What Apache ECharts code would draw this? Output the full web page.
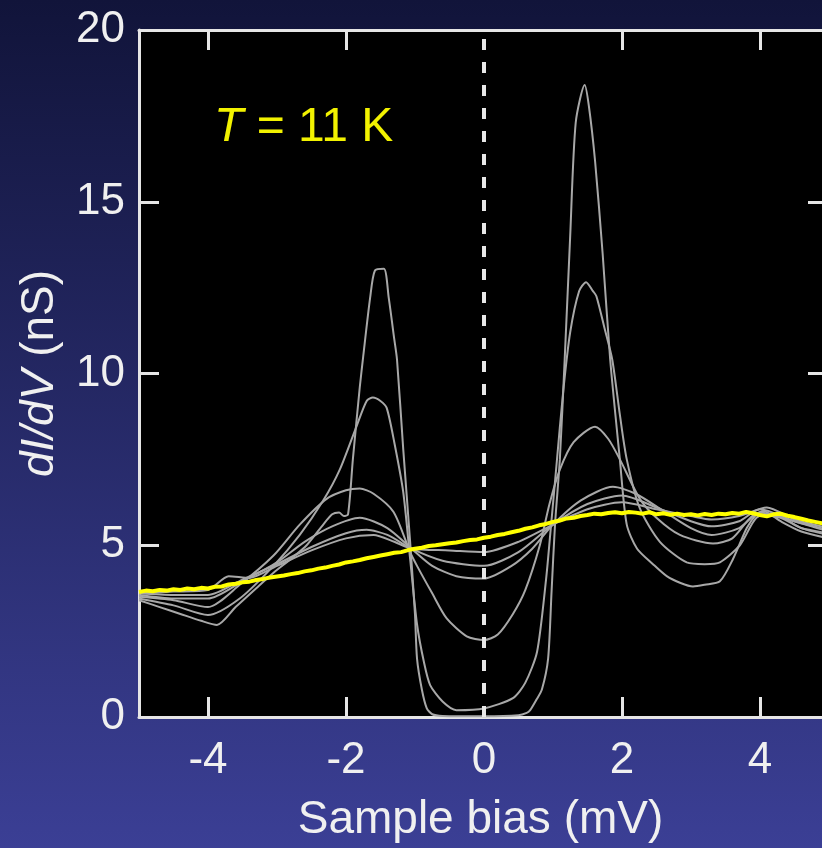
<!DOCTYPE html>
<html>
<head>
<meta charset="utf-8">
<script src="https://cdn.jsdelivr.net/npm/echarts@6/dist/echarts.min.js"></script>
<style>
html,body{margin:0;padding:0;background:#1a1d4a;}
#chart{width:822px;height:848px;}
</style>
</head>
<body>
<div id="chart"></div>
<script>
// ---- data ----
var xTickValues = [-4, -2, 0, 2, 4];
var xTickMarks = [-4, -2, 2, 4];
var yTickValues = [0, 5, 10, 15, 20];

// yellow curve, T = 11 K, bias -5 .. 5 step 0.1
var biasY = [-5.0,-4.9,-4.8,-4.7,-4.6,-4.5,-4.4,-4.3,-4.2,-4.1,-4.0,-3.9,-3.8,-3.7,-3.6,-3.5,-3.4,-3.3,-3.2,-3.1,-3.0,-2.9,-2.8,-2.7,-2.6,-2.5,-2.4,-2.3,-2.2,-2.1,-2.0,-1.9,-1.8,-1.7,-1.6,-1.5,-1.4,-1.3,-1.2,-1.1,-1.0,-0.9,-0.8,-0.7,-0.6,-0.5,-0.4,-0.3,-0.2,-0.1,0.0,0.1,0.2,0.3,0.4,0.5,0.6,0.7,0.8,0.9,1.0,1.1,1.2,1.3,1.4,1.5,1.6,1.7,1.8,1.9,2.0,2.1,2.2,2.3,2.4,2.5,2.6,2.7,2.8,2.9,3.0,3.1,3.2,3.3,3.4,3.5,3.6,3.7,3.8,3.9,4.0,4.1,4.2,4.3,4.4,4.5,4.6,4.7,4.8,4.9,5.0];
var dIdVYellow = [3.64,3.68,3.66,3.70,3.68,3.72,3.70,3.74,3.72,3.76,3.74,3.79,3.80,3.86,3.88,3.92,3.94,3.99,4.02,4.06,4.09,4.12,4.16,4.19,4.24,4.27,4.32,4.35,4.40,4.44,4.50,4.53,4.57,4.62,4.66,4.70,4.74,4.78,4.80,4.86,4.90,4.93,4.98,5.00,5.03,5.06,5.08,5.12,5.15,5.17,5.22,5.25,5.30,5.33,5.38,5.42,5.48,5.52,5.58,5.62,5.68,5.72,5.78,5.80,5.85,5.88,5.92,5.90,5.94,5.96,5.93,5.97,5.95,5.92,5.96,5.90,5.93,5.89,5.92,5.88,5.90,5.87,5.91,5.88,5.92,5.90,5.94,5.92,5.97,5.93,5.88,5.84,5.90,5.92,5.86,5.82,5.77,5.72,5.68,5.64,5.60];

// gray curves (lower temperatures), key points
var biasA = [-5.0,-4.7,-4.4,-4.1,-3.87,-3.6,-3.3,-3.05,-2.8,-2.57,-2.35,-2.2,-2.1,-2.03,-1.97,-1.9,-1.8,-1.75,-1.65,-1.58,-1.45,-1.38,-1.3,-1.26,-1.17,-1.07,-1.0,-0.97,-0.9,-0.83,-0.75,-0.6,0.0,0.5,0.62,0.67,0.76,0.84,0.93,0.98,1.03,1.1,1.17,1.25,1.33,1.46,1.52,1.61,1.72,1.83,1.97,2.07,2.22,2.45,2.65,2.85,3.03,3.2,3.42,3.61,3.81,3.95,4.05,4.3,4.6,5.0];
var dIdVA = [3.40,3.20,3.00,2.80,2.68,3.20,3.75,4.20,4.60,5.00,5.55,5.90,5.95,5.85,5.90,7.5,9.6,10.5,12.2,13.0,13.05,12.2,11.0,10.4,7.8,5.1,3.0,1.7,0.8,0.26,0.08,0.03,0.02,0.05,0.12,0.2,0.5,0.8,1.7,3.65,5.6,7.5,10.4,14.0,17.3,18.4,17.8,16.2,13.5,10.4,7.5,5.6,4.9,4.45,4.1,3.9,3.8,3.85,3.95,4.6,5.5,5.9,6.0,5.7,5.4,5.2];

var biasB = [-5.0,-4.5,-4.0,-3.54,-3.05,-2.67,-2.33,-2.09,-1.84,-1.7,-1.61,-1.5,-1.41,-1.3,-1.17,-1.07,-0.97,-0.87,-0.78,-0.6,-0.4,0.0,0.42,0.6,0.77,0.9,0.96,1.05,1.15,1.25,1.38,1.48,1.58,1.63,1.75,1.86,1.97,2.07,2.26,2.55,2.94,3.2,3.42,3.71,3.95,4.2,4.6,5.0];
var dIdVB = [3.45,3.25,2.97,3.45,4.40,5.30,6.30,7.20,8.50,9.2,9.3,9.2,9.0,8.0,6.55,4.60,2.70,1.6,0.93,0.45,0.2,0.25,0.55,1.0,1.9,4.0,5.3,7.3,9.5,11.2,12.4,12.66,12.4,12.25,11.3,10.4,8.8,7.5,6.07,5.1,4.5,4.45,4.5,5.0,5.8,5.9,5.5,5.3];

var biasC = [-5.0,-4.5,-4.0,-3.54,-3.05,-2.67,-2.28,-2.0,-1.8,-1.6,-1.31,-1.07,-0.97,-0.75,-0.54,-0.25,0.0,0.2,0.42,0.6,0.81,0.95,1.1,1.3,1.61,1.8,1.97,2.26,2.5,2.84,3.32,3.6,3.95,4.3,4.6,5.0];
var dIdVC = [3.5,3.4,3.2,3.85,4.7,5.6,6.35,6.6,6.65,6.5,5.97,4.8,4.4,3.6,2.87,2.35,2.24,2.4,3.0,3.7,5.0,6.2,7.2,8.0,8.45,8.1,7.5,6.35,5.8,5.3,5.05,5.2,5.9,5.8,5.5,5.35];

var biasD = [-5.0,-4.5,-4.0,-3.5,-3.0,-2.6,-2.2,-1.8,-1.4,-1.05,-0.75,-0.4,0.0,0.4,0.7,1.0,1.4,1.87,2.2,2.6,3.0,3.3,3.7,4.0,4.4,5.0];
var dIdVD = [3.55,3.45,3.45,3.95,4.5,5.1,5.55,5.8,5.5,4.9,4.4,4.1,4.03,4.4,4.9,5.6,6.3,6.7,6.5,6.0,5.5,5.3,5.5,5.95,5.75,5.4];

var biasE = [-5.0,-4.5,-4.0,-3.5,-3.0,-2.5,-2.0,-1.7,-1.4,-1.05,-0.6,0.0,0.5,1.0,1.5,2.0,2.5,3.0,3.3,3.7,4.0,4.5,5.0];
var dIdVE = [3.6,3.55,3.55,4.0,4.45,4.95,5.35,5.45,5.3,4.9,4.55,4.4,4.8,5.6,6.2,6.45,6.1,5.7,5.55,5.7,6.05,5.7,5.45];

var biasF = [-5.0,-4.5,-4.0,-3.7,-3.4,-3.0,-2.5,-2.0,-1.6,-1.3,-1.05,-0.5,0.0,0.5,1.0,1.5,2.0,2.5,3.0,3.3,3.7,4.1,4.5,5.0];
var dIdVF = [3.6,3.65,3.7,4.1,4.05,4.4,4.85,5.2,5.3,5.1,4.9,4.85,4.8,5.1,5.6,6.05,6.25,6.05,5.85,5.75,5.85,6.1,5.75,5.5];

function zip(xs, ys){ var o=[]; for (var i=0;i<xs.length;i++) o.push([xs[i], ys[i]]); return o; }

var grayCurves = [[biasA,dIdVA],[biasB,dIdVB],[biasC,dIdVC],[biasD,dIdVD],[biasE,dIdVE],[biasF,dIdVF]];

var FONT = '"Liberation Sans", Arial, Helvetica, sans-serif';
var AXIS_COLOR = '#e6e6e6';
// visible x-range: the frame is cut by the right edge of the picture
var X_MIN = -5, X_MAX = 4.9;

var series = [];
grayCurves.forEach(function(c){
  series.push({
    type:'line', data: zip(c[0], c[1]), showSymbol:false, smooth:0.25,
    lineStyle:{color:'#a8a8a8', width:2}, z:2, silent:true, animation:false
  });
});
series.push({
  type:'line', data:[], z:3, silent:true, animation:false,
  markLine:{ symbol:'none', silent:true, animation:false,
    label:{show:false},
    lineStyle:{color:'#e8e8e8', width:4, type:[11,12]},
    data:[{xAxis:0}] }
});
series.push({
  type:'line', data: zip(biasY, dIdVYellow), showSymbol:false, smooth:false,
  lineStyle:{color:'#ffff00', width:4}, z:4, silent:true, animation:false
});

var chart = echarts.init(document.getElementById('chart'), null, {renderer:'canvas'});
chart.setOption({
  animation:false,
  backgroundColor:{type:'linear', x:0, y:0, x2:0, y2:1,
    colorStops:[{offset:0,color:'#11143a'},{offset:1,color:'#3b3f95'}]},
  title:{
    text:'{i|T} = 11 K', left:214, top:104, padding:0,
    textStyle:{color:'#f2f200', fontSize:48, fontWeight:'normal', fontFamily:FONT,
      rich:{i:{fontStyle:'italic', color:'#f2f200', fontSize:48, fontFamily:FONT}}}
  },
  grid:{left:139, top:30, right:0, height:690, show:true, backgroundColor:'#000', borderWidth:0},
  xAxis:[{
    type:'value', min:X_MIN, max:X_MAX, position:'bottom',
    name:'Sample bias (mV)', nameLocation:'middle', nameGap:80,
    nameTextStyle:{color:'#f0f0f0', fontSize:46, fontFamily:FONT},
    axisLine:{show:true, onZero:false, lineStyle:{color:AXIS_COLOR, width:3}},
    axisTick:{show:true, inside:true, length:20, customValues:xTickMarks, lineStyle:{color:AXIS_COLOR, width:3}},
    axisLabel:{show:true, customValues:xTickValues, margin:22, color:'#f0f0f0', fontSize:44, fontFamily:FONT},
    splitLine:{show:false}
  },{
    type:'value', min:X_MIN, max:X_MAX, position:'top',
    axisLine:{show:true, onZero:false, lineStyle:{color:AXIS_COLOR, width:3}},
    axisTick:{show:true, inside:true, length:20, customValues:xTickMarks, lineStyle:{color:AXIS_COLOR, width:3}},
    axisLabel:{show:false}, splitLine:{show:false}
  }],
  yAxis:[{
    type:'value', min:0, max:20, interval:5, position:'left',
    name:'{i|dI/dV} (nS)', nameLocation:'middle', nameGap:76,
    nameTextStyle:{color:'#f0f0f0', fontSize:46, fontFamily:FONT,
      rich:{i:{fontStyle:'italic', color:'#f0f0f0', fontSize:46, fontFamily:FONT}}},
    axisLine:{show:true, onZero:false, lineStyle:{color:AXIS_COLOR, width:3}},
    axisTick:{show:true, inside:true, length:20, lineStyle:{color:AXIS_COLOR, width:3}},
    axisLabel:{show:true, margin:14, color:'#f0f0f0', fontSize:44, fontFamily:FONT,
      customValues:yTickValues, verticalAlign:'middle', padding:[6,0,0,0]},
    splitLine:{show:false}
  },{
    type:'value', min:0, max:20, interval:5, position:'right',
    axisLine:{show:false, onZero:false},
    axisTick:{show:true, inside:true, length:14, lineStyle:{color:AXIS_COLOR, width:3}},
    axisLabel:{show:false}, splitLine:{show:false}
  }],
  series: series
});
</script>
</body>
</html>
